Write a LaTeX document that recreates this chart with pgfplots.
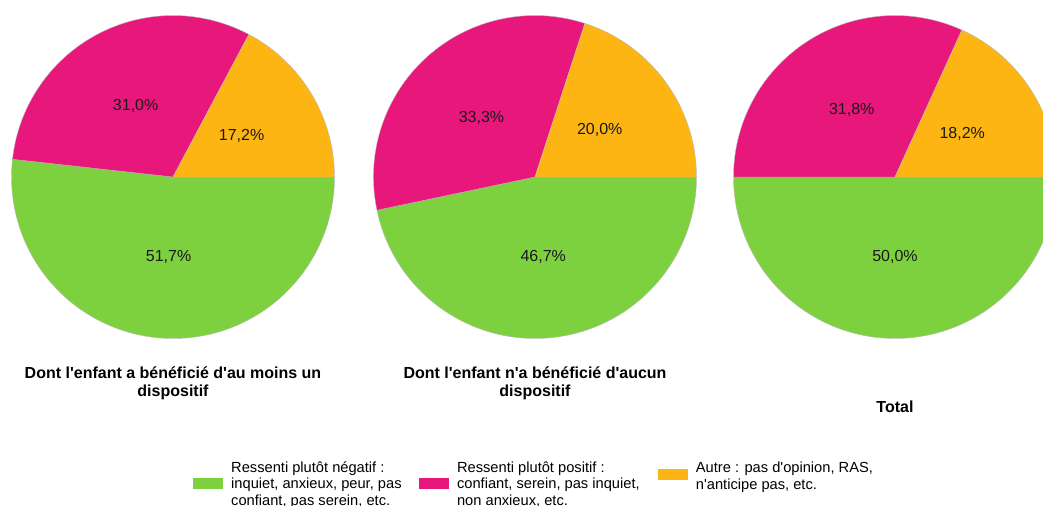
\documentclass[border=0pt]{standalone}
\usepackage{pgfplots}
\usepackage{pgfplotstable}
\pgfplotsset{compat=1.18}
\usepackage{fontspec}
\setmainfont{Liberation Sans}
\definecolor{cgreen}{RGB}{125,209,62}
\definecolor{cpink}{RGB}{232,23,123}
\definecolor{corange}{RGB}{253,181,20}
\newcommand{\q}{\textquotesingle}

% start = share already used before the slice (clockwise from 3 o'clock)
% col: 1 = négatif (green), 2 = positif (pink), 3 = autre (orange)
\pgfplotstableread{
x y start value total col
0 0 0    51.7 99.9 1
0 0 51.7 31.0 99.9 2
0 0 82.7 17.2 99.9 3
}\pieA
\pgfplotstableread{
x y start value total col
0 0 0    46.7 100 1
0 0 46.7 33.3 100 2
0 0 80.0 20.0 100 3
}\pieB
\pgfplotstableread{
x y start value total col
0 0 0    50.0 100 1
0 0 50.0 31.8 100 2
0 0 81.8 18.2 100 3
}\pieC

\pgfplotsset{
  pieaxis/.style={hide axis, scale only axis, width=242.25pt, height=242.25pt,
    xmin=-1, xmax=1, ymin=-1, ymax=1, anchor=center, clip=false,
    title style={font=\bfseries\fontsize{12}{13}\selectfont, align=center, anchor=center}},
  pieslices/.style={only marks, scatter, mark=*, mark size=0pt, forget plot,
    point meta=\thisrow{value},
    visualization depends on={\thisrow{start}\as\pstart},
    visualization depends on={\thisrow{value}\as\pval},
    visualization depends on={\thisrow{total}\as\ptotal},
    visualization depends on={\thisrow{col}\as\pcolidx},
    scatter/@pre marker code/.code={%
      \pgfmathsetmacro\nf{100/\ptotal}%
      \pgfmathsetmacro\sa{-3.6*(\pstart*\nf)}%
      \pgfmathsetmacro\ea{-3.6*((\pstart+\pval)*\nf)}%
      \pgfmathsetmacro\ma{(\sa+\ea)/2}%
      \pgfmathtruncatemacro\ci{\pcolidx}%
      \ifcase\ci\def\pcol{black}\or\def\pcol{cgreen}\or\def\pcol{cpink}\else\def\pcol{corange}\fi
      \fill[\pcol, draw=black!28, line width=0.3pt] (0pt,0pt) -- (\sa:121.125pt)
        arc[start angle=\sa, end angle=\ea, radius=121.125pt] -- cycle;
      \node[font=\fontsize{12}{14}\selectfont, text=black!90, inner sep=0pt]
        at (\ma:60pt) {\pgfmathprintnumber[fixed, fixed zerofill, precision=1, use comma, assume math mode=true]{\pval}\%};
    },
    scatter/@post marker code/.code={},
  },
}

\begin{document}
\begin{tikzpicture}
\useasboundingbox (0pt,0pt) rectangle (782.25pt,-379.5pt);

\begin{axis}[pieaxis, at={(129.75pt,-132.75pt)},
  title={Dont l\q enfant a bénéficié d\q au moins un\\dispositif},
  title style={at={(0.5,-0.163)}}]
\addplot[pieslices] table[x=x, y=y] {\pieA};
\end{axis}

\begin{axis}[pieaxis, at={(401.25pt,-132.75pt)},
  title={Dont l\q enfant n\q a bénéficié d\q aucun\\dispositif},
  title style={at={(0.5,-0.163)}},
  legend columns=3,
  legend style={at={(-0.5588,-0.425)}, anchor=west, draw=none, fill=none,
    inner sep=0pt, outer sep=0pt, cells={anchor=west},
    /tikz/every odd column/.append style={column sep=4.5pt},
    font=\fontsize{11}{12.4}\selectfont}]
\addplot[pieslices] table[x=x, y=y] {\pieB};
\addlegendimage{legend image code/.code={\fill[cgreen] (0pt,-9pt) rectangle (21.75pt,-1.5pt);}}
\addlegendentry{\parbox[c]{138.75pt}{\fontsize{11}{12.4}\selectfont\raggedright Ressenti plutôt négatif :\\inquiet, anxieux, peur, pas\\confiant, pas serein, etc.}}
\addlegendimage{legend image code/.code={\fill[cpink] (0pt,-9pt) rectangle (21.75pt,-1.5pt);}}
\addlegendentry{\parbox[c]{148.5pt}{\fontsize{11}{12.4}\selectfont\raggedright Ressenti plutôt positif :\\confiant, serein, pas inquiet,\\non anxieux, etc.}}
\addlegendimage{legend image code/.code={\fill[corange] (0pt,-2.8pt) rectangle (21.75pt,4.7pt);}}
\addlegendentry{\parbox[c]{160pt}{\fontsize{11}{12.4}\selectfont\raggedright Autre : pas d\q opinion, RAS,\\n\q anticipe pas, etc.\\\mbox{}}}
\end{axis}

\begin{axis}[pieaxis, at={(671.25pt,-132.75pt)},
  title={Total},
  title style={at={(0.5,-0.237)}}]
\addplot[pieslices] table[x=x, y=y] {\pieC};
\end{axis}
\end{tikzpicture}
\end{document}
